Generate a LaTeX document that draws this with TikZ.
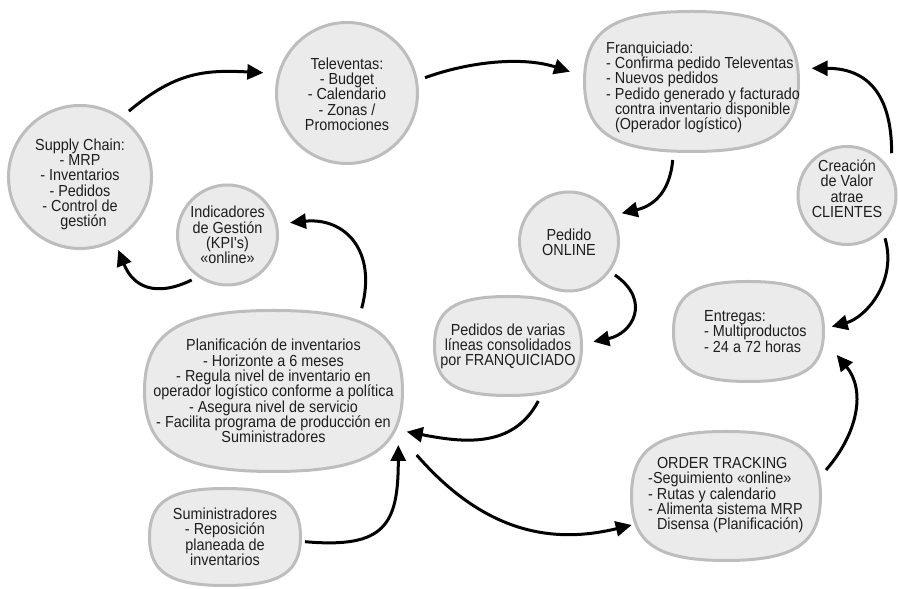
\documentclass[tikz,border=0pt]{standalone}
\usepackage{fontspec}
\setmainfont[FakeStretch=0.9,Ligatures=TeXOff]{Liberation Sans}
\usetikzlibrary{arrows.meta}
\definecolor{bfill}{HTML}{EBEBEB}
\definecolor{bdraw}{HTML}{BDBDBD}
\definecolor{ink}{HTML}{1E1E1E}
\tikzset{
  bub/.style={draw=bdraw, fill=bfill, line width=3pt, inner sep=0pt},
  circ/.style={bub, circle, minimum size=#1},
  txt/.style={inner sep=0pt, text=ink, font=\fontsize{16}{15.3}\selectfont, align=center},
  ltxt/.style={txt, align=left, anchor=west},
  arr/.style={line width=3pt, black, -{Triangle[length=16pt,width=15pt]}},
}
% superellipse-like rounded oval around a named coordinate: {name}{half width}{half height}
\newcommand{\sqoval}[3]{%
  \pgfmathsetmacro{\sqka}{0.73*#2}\pgfmathsetmacro{\sqkb}{0.73*#3}%
  \draw[bub] ([shift={(#2,0)}]#1)
    .. controls ([shift={(#2,\sqkb)}]#1) and ([shift={(\sqka,#3)}]#1) .. ([shift={(0,#3)}]#1)
    .. controls ([shift={(-\sqka,#3)}]#1) and ([shift={(-#2,\sqkb)}]#1) .. ([shift={(-#2,0)}]#1)
    .. controls ([shift={(-#2,-\sqkb)}]#1) and ([shift={(-\sqka,-#3)}]#1) .. ([shift={(0,-#3)}]#1)
    .. controls ([shift={(\sqka,-#3)}]#1) and ([shift={(#2,-\sqkb)}]#1) .. cycle;}
\begin{document}
\begin{tikzpicture}[x=1pt,y=1pt]
\useasboundingbox (0,0) rectangle (898,589);
\fill[white] (0,0) rectangle (898,589);

% shapes
\node[circ=143pt] (sc) at (80,412) {};
\node[circ=141pt] (tv) at (347,496) {};
\node[circ=98pt] (cv) at (847,393.5) {};
\node[circ=100pt] (kpi) at (227.5,354) {};
\node[circ=99pt] (po) at (569,347.5) {};
\coordinate (fr) at (691.5,507.5);
\coordinate (pv) at (508,243);
\coordinate (en) at (748.5,257.5);
\coordinate (pl) at (273.5,198);
\coordinate (su) at (225,52);
\coordinate (ot) at (726,93);
\sqoval{fr}{107}{70}
\sqoval{pv}{73.5}{49.5}
\sqoval{en}{75}{50}
\sqoval{pl}{129}{80.5}
\sqoval{su}{75.5}{48.5}
\sqoval{ot}{94.5}{64.5}

% texts
\node[txt] (sct) at (80,404.5) {Supply Chain:\\- MRP\\- Inventarios\\- Pedidos\\- Control de\\\hspace*{7pt}gestión};
\node[txt] (tvt) at (347,495) {Televentas:\\- Budget\\- Calendario\\- Zonas /\\Promociones};
\node[ltxt] (frt) at (606,501.5) {Franquiciado:\\- Confirma pedido Televentas\\- Nuevos pedidos\\- Pedido generado y facturado\\\phantom{- }contra inventario disponible\\\phantom{- }(Operador logístico)};
\node[txt] (cvt) at (847,400.4) {Creación\\de Valor\\atrae\\CLIENTES};
\node[txt] (kpit) at (227.5,354) {Indicadores\\de Gestión\\(KPI's)\\«online»};
\node[txt] (pot) at (569,346.4) {Pedido\\ONLINE};
\node[txt] (pvt) at (508,242.5) {Pedidos de varias\\líneas consolidados\\por FRANQUICIADO};
\node[ltxt] (ent) at (704,257.5) {Entregas:\\- Multiproductos\\- 24 a 72 horas};
\node[txt] (plt) at (273.5,198) {Planificación de inventarios\\- Horizonte a 6 meses\\- Regula nivel de inventario en\\operador logístico conforme a política\\- Asegura nivel de servicio\\- Facilita programa de producción en\\Suministradores};
\node[txt] (sut) at (225,52.3) {Suministradores\\- Reposición\\planeada de\\inventarios};
\node[ltxt] (ott) at (648,93.9) {\phantom{- }ORDER TRACKING\\-Seguimiento «online»\\- Rutas y calendario\\- Alimenta sistema MRP\\\phantom{- }Disensa (Planificación)};

% connectors
\draw[arr] ([shift={(53.4:82pt)}]sc.center) to[out=40,in=177,out distance=60pt,in distance=60pt] ([shift={(166.4:86.1pt)}]tv.center);
\draw[arr] ([shift={(11.1:79.5pt)}]tv.center) to[out=20,in=162,out distance=47pt,in distance=50pt] ([shift={(-121.5,9.8)}]fr);
\draw[arr] ([shift={(-18.8,-78.5)}]fr) to[out=265,in=13,out distance=35pt,in distance=30pt] ([shift={(28.2:59.8pt)}]po.center);
\draw[arr] ([shift={(43.4:61.5pt)}]cv.center) to[out=90,in=0,out distance=60pt,in distance=55pt] ([shift={(120.2,13.2)}]fr);
\draw[arr] ([shift={(-48.4:57.2pt)}]cv.center) to[out=-73.6,in=15,out distance=45pt,in distance=35pt] ([shift={(83.2,4.8)}]en);
\draw[arr] ([shift={(-36.1:56.9pt)}]po.center) to[out=-35,in=11.5,out distance=45pt,in distance=40pt] ([shift={(85.3,4.3)}]pv);
\draw[arr] ([shift={(30.3,-55)}]pv) to[out=242.4,in=349,out distance=55pt,in distance=55pt] ([shift={(133.2,-40.7)}]pl);
\draw[arr] ([shift={(88.2,82.7)}]pl) to[out=75,in=5.7,out distance=60pt,in distance=55pt] ([shift={(11.1:63.7pt)}]kpi.center);
\draw[arr] ([shift={(231.5:57.5pt)}]kpi.center) to[out=206,in=291.8,out distance=40pt,in distance=40pt] ([shift={(-62.3:82.4pt)}]sc.center);
\draw[arr] ([shift={(80,-4.7)}]su) to[out=-5,in=270,out distance=80pt,in distance=80pt] ([shift={(124.8,-54)}]pl);
\draw[arr] ([shift={(143.2,-64)}]pl) to[out=-49,in=193.7,out distance=100pt,in distance=85pt] ([shift={(-94.3,-29)}]ot);
\draw[arr] ([shift={(100,26)}]ot) to[out=49,in=309.8,out distance=50pt,in distance=45pt] ([shift={(88.2,-23.5)}]en);
\end{tikzpicture}
\end{document}
